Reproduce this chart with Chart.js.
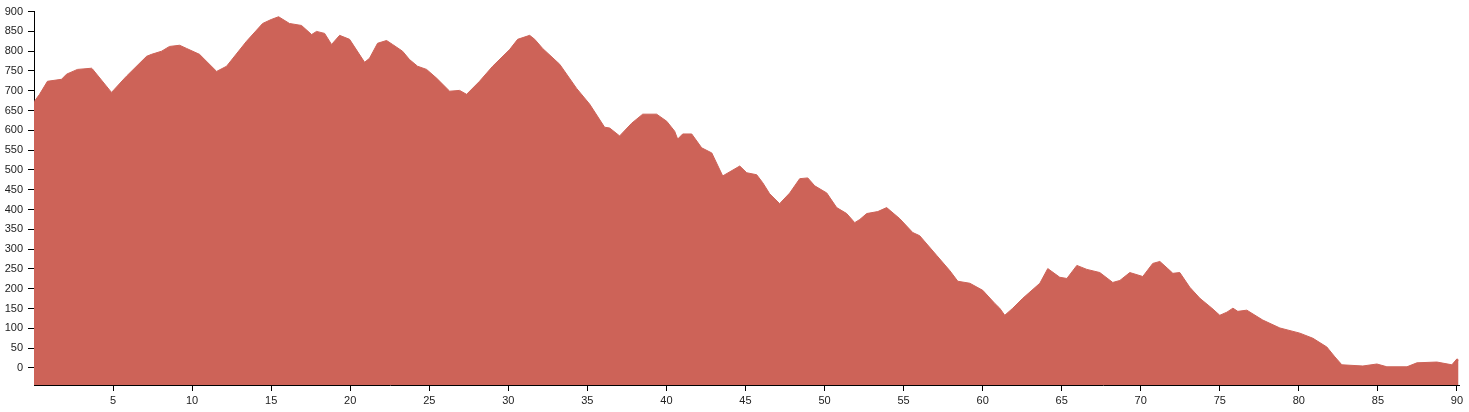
<!DOCTYPE html>
<html>
<head>
<meta charset="utf-8">
<script src="https://cdn.jsdelivr.net/npm/chart.js@4/dist/chart.umd.min.js"></script>
<style>
  body { margin: 0; background: #fff; }
  #wrap { width: 1469px; height: 412px; }
</style>
</head>
<body>
<div id="wrap"><canvas id="profile" width="1469" height="412"></canvas></div>
<script>
// distance along the route (km) and elevation (m)
const distKm = [
  0, 0.35, 0.85, 1.74, 2.06, 2.75, 3.64, 3.70, 4.90, 5.09, 5.85, 7.12, 7.43, 8.07, 8.57,
  9.21, 9.65, 10.47, 11.55, 12.18, 13.44, 14.46, 15.0, 15.47, 16.16, 16.92, 17.56, 17.87,
  18.38, 18.82, 19.33, 19.96, 20.91, 21.22, 21.73, 22.30, 22.68, 23.31, 23.75, 24.26, 24.83,
  25.46, 26.29, 26.92, 27.36, 28.18, 29.01, 30.08, 30.59, 31.35, 31.67, 32.17, 33.25, 34.32,
  35.15, 36.09, 36.41, 37.04, 37.80, 38.50, 39.38, 40.02, 40.52, 40.71, 41.03, 41.60, 42.23,
  42.87, 43.56, 44.64, 45.08, 45.71, 46.09, 46.53, 47.16, 47.80, 48.43, 48.94, 49.38, 50.14,
  50.77, 51.40, 51.91, 52.23, 52.67, 53.37, 53.93, 54.76, 55.58, 56.02, 57.10, 57.92, 58.43,
  59.19, 60.01, 60.77, 61.08, 61.40, 61.91, 62.54, 63.62, 64.12, 64.88, 65.33, 65.96, 66.59,
  67.41, 68.23, 68.68, 69.31, 70.13, 70.76, 71.21, 71.71, 72.03, 72.47, 73.10, 73.74, 74.50,
  75.00, 75.45, 75.83, 76.14, 76.71, 77.72, 78.80, 80.06, 80.89, 81.77, 82.28, 82.72, 84.05,
  84.94, 85.57, 86.84, 87.47, 88.73, 89.68, 90.00, 90.10
];
const elevM = [
  672, 691, 724, 729, 742, 754, 757, 755, 696, 704, 737, 787, 792, 800, 812,
  815, 807, 792, 749, 762, 825, 870, 880, 887, 870, 865, 842, 850,
  845, 817, 840, 830, 772, 782, 820, 827, 817, 800, 779, 762, 754,
  732, 699, 701, 691, 724, 762, 804, 830, 840, 830, 807, 767, 706,
  666, 608, 606, 586, 618, 641, 641, 623, 598, 578, 591, 591, 556,
  543, 485, 510, 493, 488, 468, 440, 415, 442, 478, 480, 460, 442,
  405, 390, 367, 375, 390, 395, 405, 377, 342, 334, 284, 246, 219,
  214, 196, 163, 151, 133, 151, 176, 214, 251, 229, 226, 259, 249,
  241, 216, 221, 241, 231, 264, 269, 251, 239, 241, 204, 176, 151,
  133, 141, 151, 143, 146, 121, 101, 88, 75, 53, 28, 8, 5,
  10, 3, 3, 13, 15, 8, 23, 20
];
const xTicks = [5, 10, 15, 20, 25, 30, 35, 40, 45, 50, 55, 60, 65, 70, 75, 80, 85, 90];
const yTicks = [0, 50, 100, 150, 200, 250, 300, 350, 400, 450, 500, 550, 600, 650, 700, 750, 800, 850, 900];

const points = distKm.map((d, i) => ({ x: d, y: elevM[i] }));

Chart.defaults.font.family = '"Liberation Sans", Arial, sans-serif';
Chart.defaults.font.size = 11;
Chart.defaults.color = '#222';

new Chart(document.getElementById('profile').getContext('2d'), {
  type: 'line',
  data: {
    datasets: [{
      data: points,
      backgroundColor: '#cd6358',
      borderColor: '#cd6358',
      borderWidth: 1,
      pointRadius: 0,
      tension: 0,
      fill: 'start'
    }]
  },
  options: {
    responsive: false,
    animation: false,
    layout: { padding: { top: 10, right: 10, left: 0, bottom: 0 } },
    plugins: { legend: { display: false }, tooltip: { enabled: false } },
    scales: {
      x: {
        type: 'linear',
        min: 0,
        max: 90.13,
        afterBuildTicks: (scale) => { scale.ticks = xTicks.map(v => ({ value: v })); },
        afterFit: (scale) => { scale.height = 27; },
        grid: { display: true, drawOnChartArea: false, tickLength: 6, color: '#000' },
        border: { display: true, color: '#000' },
        ticks: { padding: 3, maxRotation: 0, autoSkip: false }
      },
      y: {
        type: 'linear',
        min: -43,
        max: 900,
        afterBuildTicks: (scale) => { scale.ticks = yTicks.map(v => ({ value: v })); },
        afterFit: (scale) => { scale.width = 34; },
        grid: { display: true, drawOnChartArea: false, tickLength: 6, color: '#000' },
        border: { display: true, color: '#000' },
        ticks: { padding: 5, autoSkip: false }
      }
    }
  }
});
</script>
</body>
</html>
